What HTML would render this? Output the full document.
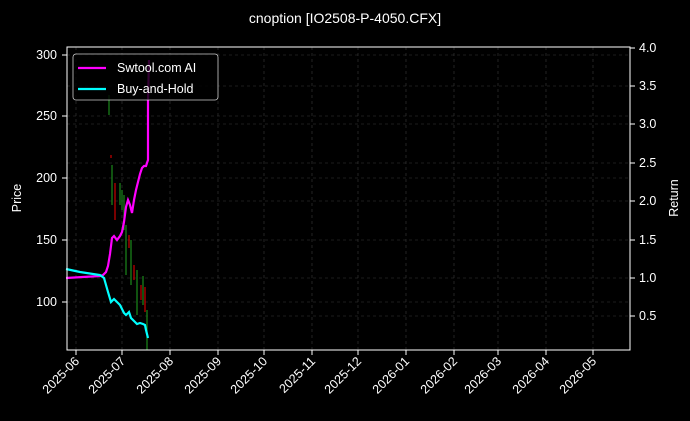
<!DOCTYPE html>
<html><head><meta charset="utf-8"><style>
html,body{margin:0;padding:0;background:#000;}
svg{display:block;font-family:"Liberation Sans","DejaVu Sans",sans-serif;}
</style></head><body>
<svg width="690" height="421" viewBox="0 0 690 421" xmlns="http://www.w3.org/2000/svg">
<rect width="690" height="421" fill="#000"/>
<text x="345" y="23" fill="#fff" font-size="14" text-anchor="middle">cnoption [IO2508-P-4050.CFX]</text>
<g stroke="#3a3a3a" stroke-width="0.6" stroke-dasharray="3,3">
<line x1="76" y1="47" x2="76" y2="350"/><line x1="122" y1="47" x2="122" y2="350"/>
<line x1="170" y1="47" x2="170" y2="350"/><line x1="218" y1="47" x2="218" y2="350"/>
<line x1="264" y1="47" x2="264" y2="350"/><line x1="312" y1="47" x2="312" y2="350"/>
<line x1="358" y1="47" x2="358" y2="350"/><line x1="406" y1="47" x2="406" y2="350"/>
<line x1="454" y1="47" x2="454" y2="350"/><line x1="498" y1="47" x2="498" y2="350"/>
<line x1="546" y1="47" x2="546" y2="350"/><line x1="593" y1="47" x2="593" y2="350"/>
<line x1="67" y1="55" x2="630" y2="55"/><line x1="67" y1="116" x2="630" y2="116"/>
<line x1="67" y1="178" x2="630" y2="178"/><line x1="67" y1="240" x2="630" y2="240"/>
<line x1="67" y1="302" x2="630" y2="302"/>
<line x1="67" y1="86" x2="630" y2="86"/><line x1="67" y1="124" x2="630" y2="124"/>
<line x1="67" y1="163" x2="630" y2="163"/><line x1="67" y1="201" x2="630" y2="201"/>
<line x1="67" y1="278" x2="630" y2="278"/>
<line x1="67" y1="316" x2="630" y2="316"/>
</g>
<g stroke-width="1.2">
<line x1="109" y1="95" x2="109" y2="115" stroke="#1a8a1a"/>
<line x1="111" y1="155" x2="111" y2="158" stroke="#c00"/>
<line x1="112" y1="165" x2="112" y2="205" stroke="#1a8a1a"/>
<line x1="115" y1="183" x2="115" y2="220" stroke="#c00"/>
<line x1="120" y1="183" x2="120" y2="205" stroke="#1a8a1a"/>
<line x1="122" y1="190" x2="122" y2="210" stroke="#1a8a1a"/>
<line x1="124" y1="195" x2="124" y2="230" stroke="#1a8a1a"/>
<line x1="126" y1="225" x2="126" y2="275" stroke="#1a8a1a"/>
<line x1="129" y1="235" x2="129" y2="248" stroke="#c00"/>
<line x1="131" y1="240" x2="131" y2="285" stroke="#1a8a1a"/>
<line x1="134" y1="265" x2="134" y2="280" stroke="#c00"/>
<line x1="137" y1="270" x2="137" y2="315" stroke="#1a8a1a"/>
<line x1="141" y1="285" x2="141" y2="300" stroke="#c00"/>
<line x1="143" y1="276" x2="143" y2="305" stroke="#1a8a1a"/>
<line x1="145" y1="287" x2="145" y2="312" stroke="#c00"/>
<line x1="147" y1="310" x2="147" y2="350" stroke="#1a8a1a"/>
</g>
<polyline fill="none" stroke="#ff00ff" stroke-width="2.2" points="66,278 100,276 103,275 106,272 108,266 110,254 112,238 114,236 117,240 120,236 122,232 124,222 126,207 128,200 130,205 132,213 134,200 136,190 138,182 140,174 142,168 144,166 146,166 148,160 148,100 149,60"/>
<polyline fill="none" stroke="#00ffff" stroke-width="2.2" points="66,269 80,272 100,275 104,278 106,285 108,292 111,302 114,299 117,302 120,305 124,313 126,315 129,312 131,318 134,321 137,324 140,323 143,324 145,325 146,330 148,338"/>
<rect x="67" y="47" width="563" height="303" fill="none" stroke="#fff" stroke-width="1"/>
<rect x="73" y="54" width="145" height="46" rx="3" fill="#000" fill-opacity="0.8" stroke="#ccc" stroke-width="0.8"/>
<line x1="78" y1="68" x2="106" y2="68" stroke="#ff00ff" stroke-width="2.2"/>
<line x1="78" y1="89" x2="106" y2="89" stroke="#00ffff" stroke-width="2.2"/>
<text x="117" y="72" fill="#fff" font-size="12.5">Swtool.com AI</text>
<text x="117" y="93" fill="#fff" font-size="12.5">Buy-and-Hold</text>
<g fill="#fff" font-size="12.5" text-anchor="end">
<text x="57" y="59">300</text><text x="57" y="120">250</text><text x="57" y="182">200</text>
<text x="57" y="244">150</text><text x="57" y="306">100</text>
<line x1="62" y1="55" x2="67" y2="55" stroke="#fff"/><line x1="62" y1="116" x2="67" y2="116" stroke="#fff"/>
<line x1="62" y1="178" x2="67" y2="178" stroke="#fff"/><line x1="62" y1="240" x2="67" y2="240" stroke="#fff"/>
<line x1="62" y1="302" x2="67" y2="302" stroke="#fff"/>
</g>
<g fill="#fff" font-size="12.5">
<text x="639" y="52">4.0</text><text x="639" y="90">3.5</text><text x="639" y="128">3.0</text>
<text x="639" y="167">2.5</text><text x="639" y="205">2.0</text><text x="639" y="244">1.5</text>
<text x="639" y="282">1.0</text><text x="639" y="320">0.5</text>
</g>
<g stroke="#fff">
<line x1="630" y1="48" x2="635" y2="48"/><line x1="630" y1="86" x2="635" y2="86"/>
<line x1="630" y1="124" x2="635" y2="124"/><line x1="630" y1="163" x2="635" y2="163"/>
<line x1="630" y1="201" x2="635" y2="201"/><line x1="630" y1="240" x2="635" y2="240"/>
<line x1="630" y1="278" x2="635" y2="278"/><line x1="630" y1="316" x2="635" y2="316"/>
</g>
<text transform="translate(21,198) rotate(-90)" fill="#fff" font-size="12.5" text-anchor="middle">Price</text>
<text transform="translate(678,198) rotate(-90)" fill="#fff" font-size="12.5" text-anchor="middle">Return</text>
<g fill="#fff" font-size="12.5" text-anchor="end">
<g stroke="#fff"><line x1="76" y1="350" x2="76" y2="355"/><line x1="122" y1="350" x2="122" y2="355"/><line x1="170" y1="350" x2="170" y2="355"/><line x1="218" y1="350" x2="218" y2="355"/><line x1="264" y1="350" x2="264" y2="355"/><line x1="312" y1="350" x2="312" y2="355"/><line x1="358" y1="350" x2="358" y2="355"/><line x1="406" y1="350" x2="406" y2="355"/><line x1="454" y1="350" x2="454" y2="355"/><line x1="498" y1="350" x2="498" y2="355"/><line x1="546" y1="350" x2="546" y2="355"/><line x1="593" y1="350" x2="593" y2="355"/></g>
<text transform="translate(80,362) rotate(-45)">2025-06</text>
<text transform="translate(126,362) rotate(-45)">2025-07</text>
<text transform="translate(174,362) rotate(-45)">2025-08</text>
<text transform="translate(222,362) rotate(-45)">2025-09</text>
<text transform="translate(268,362) rotate(-45)">2025-10</text>
<text transform="translate(316,362) rotate(-45)">2025-11</text>
<text transform="translate(362,362) rotate(-45)">2025-12</text>
<text transform="translate(410,362) rotate(-45)">2026-01</text>
<text transform="translate(458,362) rotate(-45)">2026-02</text>
<text transform="translate(502,362) rotate(-45)">2026-03</text>
<text transform="translate(550,362) rotate(-45)">2026-04</text>
<text transform="translate(597,362) rotate(-45)">2026-05</text>
</g>
</svg>
</body></html>
